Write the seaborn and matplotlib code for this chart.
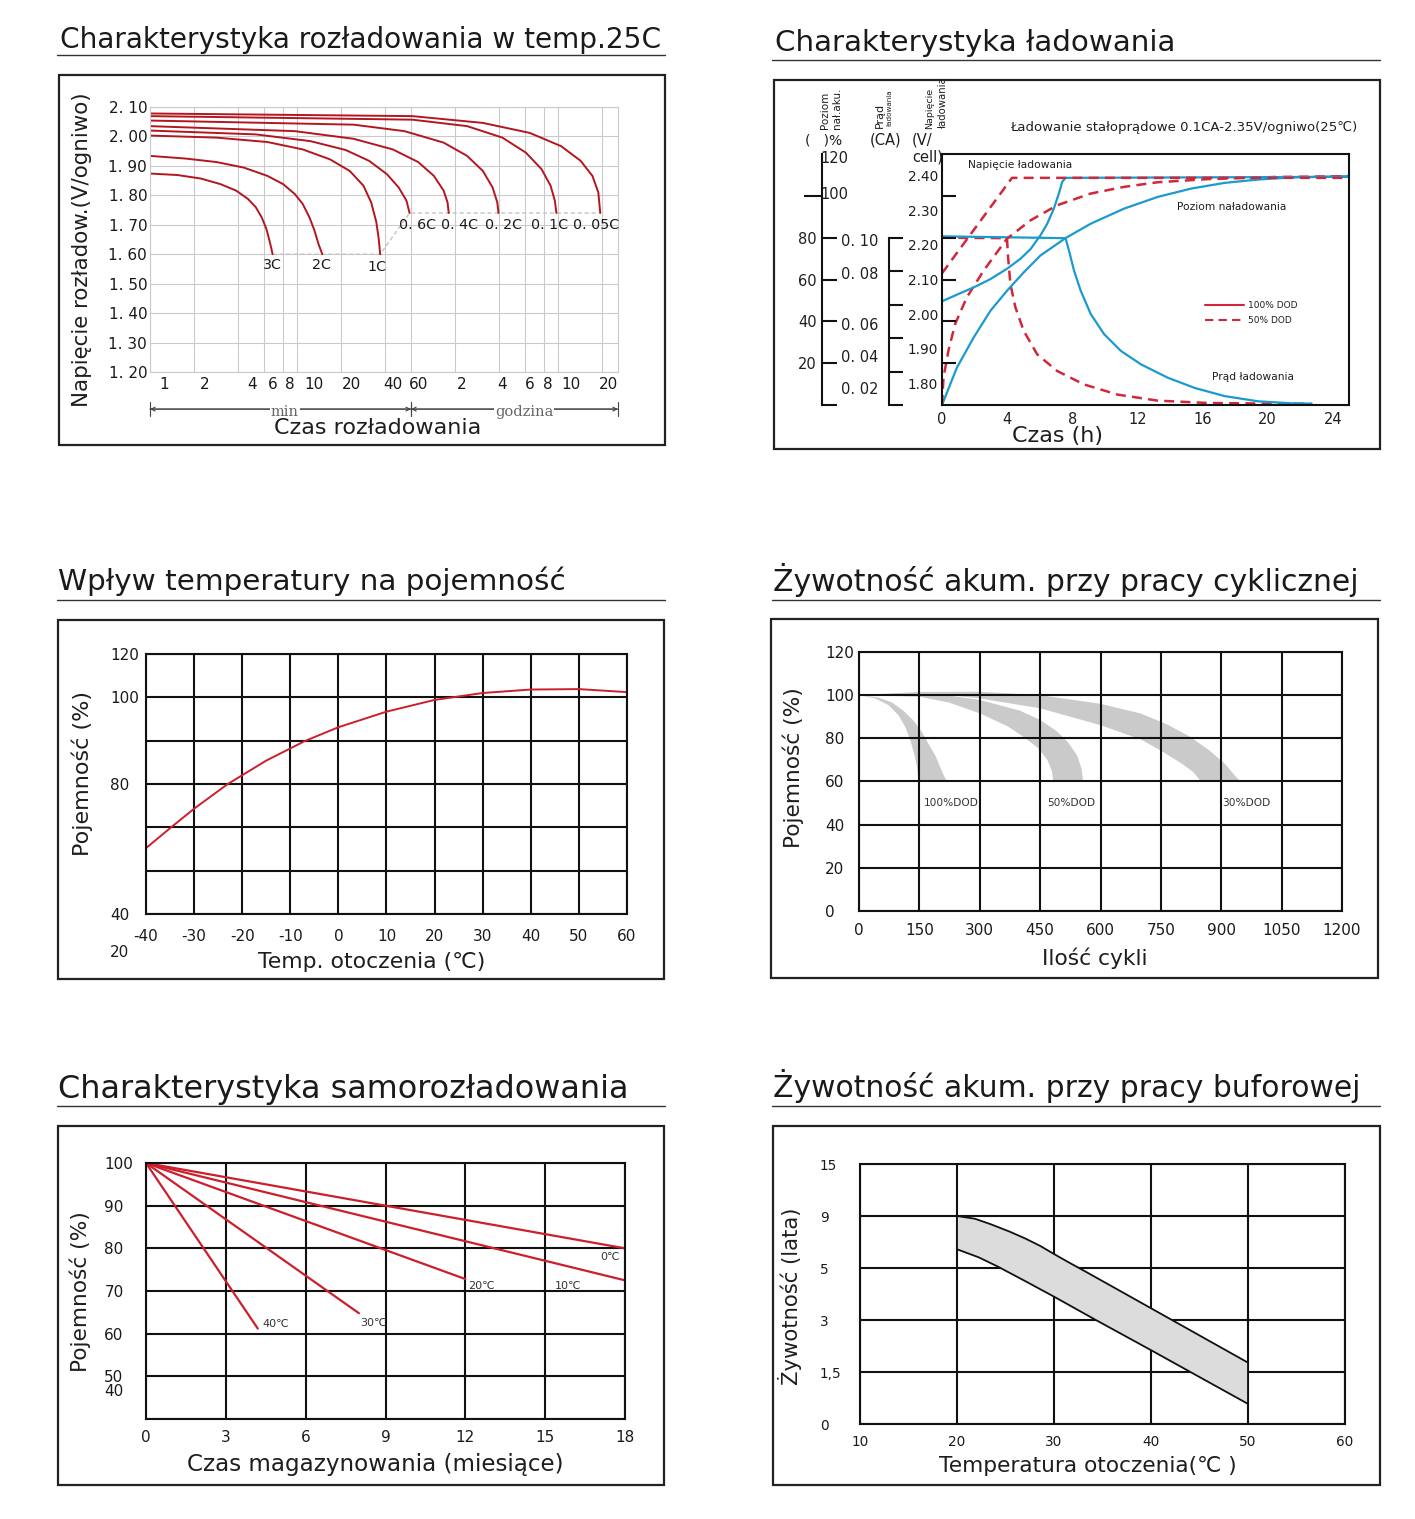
import numpy as np
import pandas as pd
import seaborn as sns
import matplotlib
matplotlib.use('Agg')
import matplotlib.pyplot as plt
from matplotlib.lines import Line2D
from matplotlib.patches import Rectangle
from matplotlib.ticker import FixedLocator, FixedFormatter, NullLocator
import matplotlib.transforms as mtransforms
from matplotlib.patches import ArrowStyle

# ===================== DATA =====================
# Panel 1: discharge curves at 25C (time in minutes, V/cell)
t_3c = [1.0, 1.537, 2.222, 3.020, 3.861, 4.642, 5.248, 5.754, 6.194, 6.508, 6.71, 6.834]
v_3c = [1.874, 1.869, 1.857, 1.838, 1.816, 1.788, 1.760, 1.726, 1.687, 1.647, 1.619, 1.600]
t_2c = [1.0, 1.738, 2.840, 4.365, 6.31, 8.07, 9.70, 10.96, 12.17, 13.18, 14.02, 14.91]
v_2c = [1.934, 1.925, 1.913, 1.894, 1.866, 1.838, 1.804, 1.771, 1.726, 1.681, 1.636, 1.600]
t_1c = [1.0, 2.840, 6.31, 10.96, 16.86, 22.9, 28.4, 32.1, 34.8, 36.1, 36.98]
v_1c = [2.003, 1.996, 1.981, 1.956, 1.922, 1.883, 1.833, 1.776, 1.709, 1.653, 1.600]
t_06c = [1.0, 5.248, 12.4, 21.5, 31.1, 41.06, 49.35, 55.8, 58.6]
v_06c = [2.020, 2.007, 1.984, 1.954, 1.917, 1.872, 1.827, 1.782, 1.740]
t_04c = [1.0, 9.70, 24.36, 45.0, 67.1, 85.8, 100.0, 106.3, 108.3]
v_04c = [2.035, 2.018, 1.992, 1.956, 1.913, 1.866, 1.816, 1.776, 1.740]
t_02c = [1.0, 24.36, 54.1, 100.0, 144.5, 184.8, 215.4, 231.9, 236.3]
v_02c = [2.054, 2.040, 2.018, 1.979, 1.934, 1.883, 1.827, 1.776, 1.740]
t_01c = [1.0, 61.2, 144.5, 251.2, 363.1, 464.2, 534.6, 571.9, 586.1]
v_01c = [2.069, 2.057, 2.035, 1.996, 1.945, 1.889, 1.833, 1.782, 1.740]
t_005c = [1.0, 61.2, 184.8, 386.1, 631.0, 857.7, 1031.0, 1131.0, 1166.0]
v_005c = [2.078, 2.069, 2.046, 2.012, 1.967, 1.917, 1.866, 1.810, 1.740]
rate_names = ['3C', '2C', '1C', '0. 6C', '0. 4C', '0. 2C', '0. 1C', '0. 05C']
p1_xtick_vals = [1, 2, 4, 6, 8, 10, 20, 40, 60, 120, 240, 360, 480, 600, 1200]
p1_xtick_text = ['1', '2', '4', '6', '8', '10', '20', '40', '60', '2', '4', '6', '8', '10', '20']
p1_ytick_vals = [1.2, 1.3, 1.4, 1.5, 1.6, 1.7, 1.8, 1.9, 2.0, 2.1]
p1_ytick_text = ['1. 20', '1. 30', '1. 40', '1. 50', '1. 60', '1. 70', '1. 80', '1. 90', '2. 00', '2. 10']

# Panel 2: charging characteristics (hours)
volt_100_t = [0, 0.91, 1.94, 2.97, 3.99, 4.82, 5.44, 6.05, 6.46, 6.87, 7.18, 7.39, 7.59, 25]
volt_100_v = [2.037, 2.056, 2.077, 2.101, 2.131, 2.160, 2.188, 2.228, 2.261, 2.305, 2.349, 2.383, 2.394, 2.397]
volt_50_t = [0, 4.3, 25]
volt_50_v = [2.118, 2.394, 2.394]
level_100_t = [0, 0.91, 1.94, 2.97, 3.99, 5.02, 6.05, 7.59, 9.14, 11.19, 13.26, 15.32, 17.37, 19.43, 21.49, 25]
level_100_p = [0, 17.8, 32.2, 45.0, 54.6, 63.4, 71.5, 79.8, 86.7, 93.9, 99.5, 103.5, 106.2, 107.8, 108.8, 109.4]
level_50_t = [0, 0.09, 0.39, 0.8, 1.52, 2.56, 3.99, 5.44, 7.08, 9.14, 11.2, 13.26, 16.34, 20.45, 25]
level_50_p = [0, 13.0, 25.8, 38.6, 51.4, 64.3, 79.5, 88.3, 95.5, 101.1, 104.3, 106.5, 108.0, 109.0, 109.4]
curr_100_t = [0, 7.59, 7.80, 8.11, 8.52, 9.14, 9.96, 10.99, 12.22, 13.87, 15.52, 17.37, 19.43, 21.49, 22.7]
curr_100_i = [0.1008, 0.0997, 0.0923, 0.0803, 0.0683, 0.0543, 0.0423, 0.0323, 0.0243, 0.0163, 0.0102,
              0.0053, 0.0022, 0.0010, 0.0008]
curr_50_t = [0, 3.99, 4.06, 4.2, 4.51, 5.02, 5.85, 7.08, 8.72, 10.79, 13.26, 16.34, 20.45, 22.7]
curr_50_i = [0.1, 0.0997, 0.0883, 0.0723, 0.0583, 0.0443, 0.0302, 0.0203, 0.0123, 0.0062, 0.0026, 0.0012,
             0.0008, 0.0008]
p2_volt_ticks = [1.8, 1.9, 2.0, 2.1, 2.2, 2.3, 2.4]
p2_volt_text = ['1.80', '1.90', '2.00', '2.10', '2.20', '2.30', '2.40']
p2_pct_ticks = [0, 20, 40, 60, 80]
p2_pct_text = ['', '20', '40', '60', '80']
p2_cur_ticks = [0, 0.02, 0.04, 0.06, 0.08, 0.10]
p2_cur_label_pos = [0.0099, 0.0292, 0.0487, 0.0791, 0.0988]
p2_cur_text = ['0. 02', '0. 04', '0. 06', '0. 08', '0. 10']
p2_hours = [0, 4, 8, 12, 16, 20, 24]

# Panel 3: temperature vs capacity
temp3 = [-40, -35, -30, -23, -15, -7, 0, 10, 20, 30, 40, 50, 60]
cap3 = [65.2, 69.8, 74.3, 80.0, 85.4, 89.9, 93.1, 96.7, 99.4, 101.0, 101.8, 101.9, 101.2]
p3_yticks = [50, 60, 70, 80, 90, 100, 110]
p3_ytext = ['40', '', '', '80', '', '100', '120']

# Panel 4: cycle life bands (cycles, capacity %)
dod100_up_x = [0, 48, 82, 111, 136, 157, 173, 190, 202, 213, 219]
dod100_up_y = [100, 98.9, 96.6, 92.7, 88.1, 82.7, 77.3, 71.9, 66.5, 61.9, 60]
dod100_lo_x = [0, 40, 73, 98, 115, 127.5, 138, 144, 148]
dod100_lo_y = [100, 98.5, 95.4, 90.7, 85.3, 79.2, 72.2, 66.8, 60]
dod50_up_x = [0, 100, 200, 300, 400, 450, 490, 520, 542, 553, 557]
dod50_up_y = [100, 100.8, 100.4, 97.8, 92.8, 88.5, 83.5, 78, 72, 66, 60]
dod50_lo_x = [0, 150, 225, 300, 370, 410, 445, 468, 479, 483]
dod50_lo_y = [100, 99.3, 96.5, 91.6, 85.5, 80.5, 75.5, 70, 65, 60]
dod30_up_x = [0, 150, 300, 450, 600, 700, 765, 820, 870, 910, 935, 947]
dod30_up_y = [100, 101.5, 101.6, 100, 96, 91.5, 86.5, 81, 74.5, 68, 62.5, 60]
dod30_lo_x = [0, 200, 300, 450, 600, 700, 750, 800, 830, 850]
dod30_lo_y = [100, 100.5, 98.5, 93.9, 86.1, 79.5, 74.3, 68.5, 64.5, 60]
dod_names = ['100%DOD', '50%DOD', '30%DOD']

# Panel 5: self-discharge (months, %)
sd_temps = ['0℃', '10℃', '20℃', '30℃', '40℃']
sd_end_month = [18, 18, 12, 8, 4.2]
sd_end_cap = [80, 72.5, 72.8, 64.8, 61.2]

# Panel 6: float life (°C, years)
fl_up_t = [20, 21.84, 23.43, 25.42, 27.01, 28.60, 29.99, 31.38, 32.97, 36.95, 40.92, 44.90, 50]
fl_up_y = [9.0, 8.79, 8.38, 7.80, 7.28, 6.69, 6.08, 5.49, 4.92, 4.09, 3.26, 2.57, 1.77]
fl_lo_t = [20, 22.24, 24.23, 27.01, 29.99, 34.17, 40.13, 44.90, 50]
fl_lo_y = [6.44, 5.82, 5.10, 4.50, 3.90, 3.03, 2.11, 1.37, 0.58]
fl_yticks = [0, 1.5, 3, 5, 9, 15]
fl_ytext = ['0', '1,5', '3', '5', '9', '15']

# ===================== STYLE =====================
sns.set_theme(style='white')
plt.rcParams['font.family'] = ['DejaVu Sans', 'Noto Sans CJK SC']
plt.rcParams['axes.unicode_minus'] = False
plt.rcParams['text.color'] = '#1e1e1e'
plt.rcParams['axes.labelcolor'] = '#1e1e1e'
plt.rcParams['xtick.color'] = '#1e1e1e'
plt.rcParams['ytick.color'] = '#1e1e1e'

RED1 = '#b3161f'
RED2 = '#d0283a'
BLUE = '#1b9ad0'
RED3 = '#cc1f2c'
INK = '#1a1a1a'

W, H = 1415, 1519
fig = plt.figure(figsize=(W / 100, H / 100), dpi=100)
fig.patch.set_facecolor('white')
R = fig.canvas.get_renderer()


def ax_at(x0, y0, x1, y1):
    return fig.add_axes([x0 / W, 1 - y1 / H, (x1 - x0) / W, (y1 - y0) / H])


def ftext(x, y, s, **kw):
    return fig.text(x / W, 1 - y / H, s, **kw)


def fit(t, target, vertical=False):
    bb = t.get_window_extent(renderer=R)
    cur = bb.height if vertical else bb.width
    t.set_fontsize(t.get_fontsize() * target / cur)


def hline(x0, x1, y):
    fig.add_artist(Line2D([x0 / W, x1 / W], [1 - y / H, 1 - y / H], transform=fig.transFigure,
                          color='#333', lw=1.0))


def box(x0, y0, x1, y1):
    fig.add_artist(Rectangle((x0 / W, 1 - y1 / H), (x1 - x0) / W, (y1 - y0) / H,
                             transform=fig.transFigure, fill=False, ec='#222', lw=1.6))


def grid_style(ax, lw=1.5, color='#111'):
    ax.grid(True, color=color, lw=lw)
    for s in ax.spines.values():
        s.set_color(color)
        s.set_linewidth(lw)
    ax.tick_params(length=0)


def line(ax, x, y, **kw):
    sns.lineplot(x=x, y=y, ax=ax, sort=False, estimator=None, **kw)
    ax.set_xlabel('')
    ax.set_ylabel('')


# ---------- titles, underlines, boxes ----------
titles = [(60, 48, 'Charakterystyka rozładowania w temp.25C', 602),
          (775, 51, 'Charakterystyka ładowania', 401),
          (58, 590, 'Wpływ temperatury na pojemność', 508),
          (773, 591, 'Żywotność akum. przy pracy cyklicznej', 585),
          (58, 1098, 'Charakterystyka samorozładowania', 570),
          (773, 1097, 'Żywotność akum. przy pracy buforowej', 585)]
for x, y, s, w in titles:
    t = ftext(x, y, s, fontsize=20, ha='left', va='baseline', color=INK)
    fit(t, w)
for x0, x1, y in [(57, 665, 55), (772, 1380, 60), (57, 665, 600), (772, 1380, 600),
                  (57, 665, 1106), (772, 1380, 1106)]:
    hline(x0, x1, y)
for b in [(59, 75, 665, 445), (774, 80, 1380, 449), (58, 620, 664, 979),
          (771, 619, 1378, 978), (58, 1126, 664, 1485), (773, 1126, 1380, 1485)]:
    box(*b)

# ===================== PANEL 1 =====================
ax1 = ax_at(150, 107, 618, 372)
ax1.set_xscale('log')
curves1 = [(t_3c, v_3c), (t_2c, v_2c), (t_1c, v_1c), (t_06c, v_06c), (t_04c, v_04c),
           (t_02c, v_02c), (t_01c, v_01c), (t_005c, v_005c)]
ends_t = [c[0][-1] for c in curves1]
ends_v = [c[1][-1] for c in curves1]
line(ax1, ends_t, ends_v, color='#c4c4c4', linewidth=1.0, linestyle=(0, (3, 2)))
for tt, vv in curves1:
    line(ax1, tt, vv, color=RED1, linewidth=1.4)
ax1.set_xlim(1, 1540)
ax1.set_ylim(1.20, 2.10)
ax1.set_xticks(p1_xtick_vals)
ax1.set_xticklabels(p1_xtick_text)
ax1.xaxis.set_minor_locator(NullLocator())
ax1.set_yticks(p1_ytick_vals)
ax1.set_yticklabels(p1_ytick_text)
grid_style(ax1, lw=0.8, color='#cacaca')
ax1.set_axisbelow(True)
ax1.tick_params(labelsize=11, labelcolor=INK)
ax1.tick_params(axis='x', pad=3.5)
ax1.tick_params(axis='y', pad=2)
lab_pos_t = [6.77, 14.8, 35.1, 66.2, 127.8, 256, 525, 1096]
lab_pos_v = [1.563, 1.563, 1.556, 1.70, 1.70, 1.70, 1.70, 1.70]
for name, tx, vy in zip(rate_names, lab_pos_t, lab_pos_v):
    ax1.text(tx, vy, name, ha='center', va='center', fontsize=10.3, color=INK)
# min / godzina bracket
xt = ax1.get_xaxis_transform()
yb = -0.14
for a, b in [(1, 60), (60, 1540)]:
    ax1.annotate('', xy=(a, yb), xytext=(b, yb), xycoords=xt,
                 arrowprops=dict(arrowstyle='<->', color='#444', lw=0.8, shrinkA=0, shrinkB=0,
                                 mutation_scale=7), annotation_clip=False)
    ax1.annotate('', xy=(a, yb), xytext=(b, yb), xycoords=xt,
                 arrowprops=dict(arrowstyle=ArrowStyle('|-|', widthA=0.5, widthB=0.5), color='#444',
                                 lw=0.8, shrinkA=0, shrinkB=0, mutation_scale=10),
                 annotation_clip=False)
ax1.text(8.3, yb - 0.012, 'min', transform=xt, ha='center', va='center', fontsize=10.5,
         family='DejaVu Serif', color='#666',
         bbox=dict(fc='white', ec='none', pad=0.5))
ax1.text(353, yb - 0.012, 'godzina', transform=xt, ha='center', va='center', fontsize=10.5,
         family='DejaVu Serif', color='#666', bbox=dict(fc='white', ec='none', pad=0.5))
t = ftext(378, 428, 'Czas rozładowania', fontsize=15, ha='center', va='center')
fit(t, 207)
t = ftext(82, 250, 'Napięcie rozładow.(V/ogniwo)', fontsize=15, ha='center', va='center', rotation=90)
fit(t, 316, vertical=True)

# ===================== PANEL 2 =====================
ax2 = ax_at(942, 154, 1349, 405)
axc = ax2.twinx()
axp = ax2.twinx()
axm = ax2.twinx()
ax2.set_zorder(5)
ax2.patch.set_visible(False)
for a in (axc, axp, axm):
    a.patch.set_visible(False)

DASH = (0, (4, 2.5))
# current (CA)
line(axc, curr_50_t, curr_50_i, color=RED2, linewidth=1.8, linestyle=DASH)
line(axc, curr_100_t, curr_100_i, color=BLUE, linewidth=1.6)
# state of charge (%)
line(axp, level_100_t, level_100_p, color=BLUE, linewidth=1.6)
line(axp, level_50_t, level_50_p, color=RED2, linewidth=1.8, linestyle=DASH)
# charging voltage
line(ax2, volt_100_t, volt_100_v, color=BLUE, linewidth=1.6)
line(ax2, volt_50_t, volt_50_v, color=RED2, linewidth=1.8, linestyle=DASH)

ax2.set_xlim(0, 25)
ax2.set_ylim(1.737, 2.463)
for s in ax2.spines.values():
    s.set_color('#111')
    s.set_linewidth(1.5)
ax2.set_yticks(p2_volt_ticks)
ax2.set_yticklabels(p2_volt_text)
ax2.set_xticks(p2_hours)
ax2.tick_params(axis='y', length=0, pad=3, labelsize=9.8, left=True, labelleft=True)
ax2.tick_params(axis='x', length=0, pad=5, labelsize=10.5)

axm.set_ylim(0, 120)
axm.yaxis.tick_left()
axm.set_yticks([20, 40, 60, 80, 100])
axm.tick_params(axis='y', direction='in', length=10, width=1.5, color='#111', left=True, right=False,
                labelleft=False, labelright=False)
for s in axm.spines.values():
    s.set_visible(False)

axp.set_ylim(0, 120)
for k in ('right', 'top', 'bottom'):
    axp.spines[k].set_visible(False)
axp.spines['left'].set_visible(True)
axp.spines['left'].set_position(('axes', (822 - 942) / 407))
axp.spines['left'].set_color('#111')
axp.spines['left'].set_linewidth(1.5)
axp.yaxis.tick_left()
axp.set_yticks(p2_pct_ticks)
axp.set_yticklabels(p2_pct_text)
axp.yaxis.set_minor_locator(FixedLocator([100]))
axp.tick_params(axis='y', which='major', direction='in', length=11, width=1.5, color='#111',
                left=True, right=False, labelleft=True, labelright=False, pad=4, labelsize=10.5)
axp.tick_params(axis='y', which='minor', direction='out', length=13, width=1.5, color='#111',
                left=True, right=False)
for s_, yv in [('120', 117.9), ('100', 100.7)]:
    axp.annotate(s_, xy=((822 - 942) / 407, yv), xycoords=('axes fraction', 'data'), xytext=(-2, 0),
                 textcoords='offset pixels', ha='left', va='center', fontsize=10.5,
                 annotation_clip=False)

axc.set_ylim(0, 0.15)
for k in ('right', 'top', 'bottom'):
    axc.spines[k].set_visible(False)
axc.spines['left'].set_visible(True)
axc.spines['left'].set_position(('axes', (888.5 - 942) / 407))
axc.spines['left'].set_bounds(0, 0.10)
axc.spines['left'].set_color('#111')
axc.spines['left'].set_linewidth(1.5)
axc.yaxis.tick_left()
axc.yaxis.set_major_locator(FixedLocator(p2_cur_ticks))
axc.yaxis.set_major_formatter(FixedFormatter([''] * len(p2_cur_ticks)))
axc.yaxis.set_minor_locator(FixedLocator(p2_cur_label_pos))
axc.yaxis.set_minor_formatter(FixedFormatter(p2_cur_text))
axc.tick_params(axis='y', which='major', direction='in', length=10, width=1.5, color='#111',
                left=True, right=False, labelleft=False, labelright=False)
axc.tick_params(axis='y', which='minor', length=0, left=True, right=False, labelleft=True,
                labelright=False, pad=7, labelsize=10.5)

# header texts on left axes
ftext(825, 110, 'Poziom', rotation=90, fontsize=7.5, ha='center', va='center')
ftext(837, 108, 'nał.aku.', rotation=90, fontsize=7.5, ha='center', va='center')
ftext(823.5, 140, '(   )%', fontsize=10, ha='center', va='center')
ftext(880, 115.5, 'Prąd', rotation=90, fontsize=8, ha='center', va='center')
ftext(890, 107.5, 'ładowania', rotation=90, fontsize=5.2, ha='center', va='center')
ftext(886, 140, '(CA)', fontsize=10.5, ha='center', va='center')
ftext(930, 108, 'Napięcie', rotation=90, fontsize=6.8, ha='center', va='center')
ftext(943, 102.5, 'ładowania', rotation=90, fontsize=7.3, ha='center', va='center')
ftext(912, 140, '(V/', fontsize=10.5, ha='left', va='center')
ftext(912, 157, 'cell)', fontsize=10.5, ha='left', va='center')
ftext(1010, 127, 'Ładowanie stałoprądowe 0.1CA-2.35V/ogniwo(25℃)', fontsize=9.5, ha='left', va='center')
ftext(968, 165, 'Napięcie ładowania', fontsize=7.7, ha='left', va='center')
ftext(1177, 207, 'Poziom naładowania', fontsize=7.7, ha='left', va='center')
ftext(1212, 377, 'Prąd ładowania', fontsize=7.7, ha='left', va='center')
ax2.legend(handles=[Line2D([], [], color=RED2, lw=1.5),
                    Line2D([], [], color=RED2, lw=1.5, ls=DASH)],
           labels=['100% DOD', '50% DOD'], loc='upper left',
           bbox_to_anchor=(1205 / W, 1 - 301 / H), bbox_transform=fig.transFigure,
           frameon=False, fontsize=6.5, handlelength=4.3, handletextpad=0.5, labelspacing=0.65,
           borderpad=0, borderaxespad=0)
t = ftext(1057, 436, 'Czas (h)', fontsize=15, ha='center', va='center')
fit(t, 91)

# ===================== PANEL 3 =====================
ax3 = ax_at(146, 654, 627, 914)
line(ax3, temp3, cap3, color=RED3, linewidth=1.4)
ax3.set_xlim(-40, 60)
ax3.set_ylim(50, 110)
ax3.set_xticks(list(range(-40, 61, 10)))
ax3.set_yticks(p3_yticks)
ax3.set_yticklabels(p3_ytext)
grid_style(ax3)
ax3.set_axisbelow(True)
ax3.tick_params(labelsize=11, labelcolor=INK)
ax3.tick_params(axis='x', pad=11)
ax3.tick_params(axis='y', pad=26)
for lab in ax3.get_yticklabels():
    lab.set_ha('left')
ax3.annotate('20', xy=(0, 41.2), xycoords=('axes fraction', 'data'), xytext=(-36, 0),
             textcoords='offset pixels', ha='left', va='center', fontsize=11, annotation_clip=False)
t = ftext(372, 962, 'Temp. otoczenia (℃)', fontsize=15, ha='center', va='center')
fit(t, 227)
t = ftext(82, 773, 'Pojemność (%)', fontsize=15, ha='center', va='center', rotation=90)
fit(t, 165, vertical=True)

# ===================== PANEL 4 =====================
ax4 = ax_at(859, 652, 1342, 911)
bands = [(dod100_up_x, dod100_up_y, dod100_lo_x, dod100_lo_y),
         (dod50_up_x, dod50_up_y, dod50_lo_x, dod50_lo_y),
         (dod30_up_x, dod30_up_y, dod30_lo_x, dod30_lo_y)]
for ux, uy, lx, ly in bands:
    ax4.fill(list(ux) + list(lx[::-1]), list(uy) + list(ly[::-1]), facecolor='#c9cac9',
             edgecolor='none', zorder=1)
ax4.set_xlim(0, 1200)
ax4.set_ylim(0, 120)
ax4.set_xticks(list(range(0, 1201, 150)))
ax4.set_yticks(list(range(0, 121, 20)))
grid_style(ax4)
ax4.set_axisbelow(False)
ax4.tick_params(labelsize=11, labelcolor=INK)
ax4.tick_params(axis='x', pad=9)
ax4.tick_params(axis='y', pad=24.5)
for lab in ax4.get_yticklabels():
    lab.set_ha('left')
for name, cx in zip(dod_names, [161.5, 467, 902]):
    ax4.text(cx, 50, name, ha='left', va='center', fontsize=7.6, color='#333')
t = ftext(1095, 958, 'Ilość cykli', fontsize=15, ha='center', va='center')
fit(t, 106)
t = ftext(793, 768, 'Pojemność (%)', fontsize=15, ha='center', va='center', rotation=90)
fit(t, 160, vertical=True)

# ===================== PANEL 5 =====================
ax5 = ax_at(146, 1163, 625, 1419)
for m, c in zip(sd_end_month, sd_end_cap):
    line(ax5, [0, m], [100, c], color=RED3, linewidth=1.6)
ax5.set_xlim(0, 18)
ax5.set_ylim(40, 100)
ax5.set_xticks(list(range(0, 19, 3)))
ax5.yaxis.set_major_locator(FixedLocator([40, 50, 60, 70, 80, 90, 100]))
ax5.yaxis.set_major_formatter(FixedFormatter(['', '50', '60', '70', '80', '90', '100']))
ax5.yaxis.set_minor_locator(FixedLocator([46.9]))
ax5.yaxis.set_minor_formatter(FixedFormatter(['40']))
grid_style(ax5)
ax5.grid(False, which='minor')
ax5.set_axisbelow(True)
ax5.tick_params(which='both', labelsize=11, labelcolor=INK, length=0)
ax5.tick_params(axis='x', pad=8)
ax5.tick_params(axis='y', which='both', pad=30, left=True)
for lab in ax5.get_yticklabels() + ax5.get_yticklabels(minor=True):
    lab.set_ha('left')
sd_lab_x = [17.44, 15.87, 12.61, 8.54, 4.89]
sd_lab_y = [77.97, 71.25, 71.25, 62.5, 62.27]
for name, lx, ly in zip(sd_temps, sd_lab_x, sd_lab_y):
    ax5.text(lx, ly, name, ha='center', va='center', fontsize=8, color='#333')
t = ftext(375, 1465, 'Czas magazynowania (miesiące)', fontsize=15, ha='center', va='center')
fit(t, 376)
t = ftext(80, 1292, 'Pojemność (%)', fontsize=15, ha='center', va='center', rotation=90)
fit(t, 160, vertical=True)

# ===================== PANEL 6 =====================
ax6 = ax_at(860, 1164, 1345, 1424)
_yk = [0, 1.5, 3, 5, 9, 15]
_rk = [0, 1, 2, 3, 4, 5]


def _fwd(y):
    return np.interp(y, _yk, _rk)


def _inv(r):
    return np.interp(r, _rk, _yk)


ax6.set_yscale('function', functions=(_fwd, _inv))
ax6.fill(list(fl_up_t) + list(fl_lo_t[::-1]), list(fl_up_y) + list(fl_lo_y[::-1]),
         facecolor='#dcdcdc', edgecolor='#111', lw=1.3, zorder=3)
ax6.set_xlim(10, 60)
ax6.set_ylim(0, 15)
ax6.set_xticks(list(range(10, 61, 10)))
ax6.yaxis.set_major_locator(FixedLocator(fl_yticks))
ax6.yaxis.set_major_formatter(FixedFormatter(fl_ytext))
ax6.yaxis.set_minor_locator(NullLocator())
grid_style(ax6)
ax6.set_axisbelow(True)
ax6.tick_params(labelsize=9.8, labelcolor=INK)
ax6.tick_params(axis='x', pad=8)
ax6.tick_params(axis='y', pad=29)
for lab in ax6.get_yticklabels():
    lab.set_ha('left')
t = ftext(1088, 1466, 'Temperatura otoczenia(℃ )', fontsize=15, ha='center', va='center')
fit(t, 297)
t = ftext(790, 1296, 'Żywotność (lata)', fontsize=15, ha='center', va='center', rotation=90)
fit(t, 178, vertical=True)

# shift panel-1 x tick labels slightly right like the original
fig.canvas.draw()
p1_label_shift_px = [13.8, 10.7, 13.5, 8.4, 7.4, 16.9, 10.7, 7.6, 7.3, 6.8, 2.6, 4.7, 3.9, 13.2, 6.0]
for lab, dx in zip(ax1.get_xticklabels(), p1_label_shift_px):
    off = mtransforms.ScaledTranslation(dx / 100, 0, fig.dpi_scale_trans)
    lab.set_transform(lab.get_transform() + off)

fig.savefig('out.png', dpi=100, facecolor='white')
